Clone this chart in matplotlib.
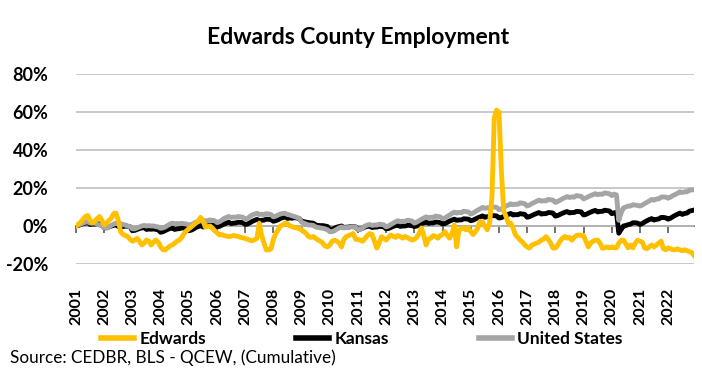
import numpy as np
import matplotlib.pyplot as plt
from matplotlib import font_manager
from matplotlib.lines import Line2D

years = [str(y) for y in range(2001, 2023)]

# Cumulative % change in employment since Jan 2001, one row of 12 months per year
edwards = [
    [0, 1, 2, 3.5, 5, 5.5, 3, 1.5, 2.5, 4, 5, 3],                      # 2001
    [0.5, 1.5, 3, 4, 6.5, 6.8, 3, -3, -4.5, -5, -5.6, -7],             # 2002
    [-8, -7.5, -6.5, -8, -10, -9, -7.4, -8, -10, -8.5, -7.4, -8.5],    # 2003
    [-11, -12.5, -12.6, -11.5, -10.5, -10, -9, -8, -7.4, -6, -4, -2.5],  # 2004
    [-1.5, -0.5, 0.5, 1.5, 2.5, 4.5, 3, -0.5, -0.3, 0, -1, -2.5],      # 2005
    [-3.5, -4.7, -4.5, -5, -5.3, -5.6, -5.4, -5, -5.3, -5.5, -6, -6.2],  # 2006
    [-6.5, -7, -7.5, -7.8, -7.2, -6.5, 1.5, -5, -9, -12.6, -12.6, -12],  # 2007
    [-7, -4, -2, 0, 0.5, 1.5, 1.2, 0, -0.3, -0.8, -1, -1.5],           # 2008
    [-2, -3, -4, -5.6, -6, -5.5, -6.5, -7.4, -8, -9, -10.5, -11],      # 2009
    [-10, -8, -7.5, -8, -9, -11, -7, -5.6, -5, -4.5, -4, -7],          # 2010
    [-7, -7.5, -8, -6.5, -5, -4, -4.5, -8, -11.6, -9, -5.6, -6.5],     # 2011
    [-7.4, -6, -4.7, -5.5, -6, -5, -5.5, -6.4, -5.5, -6, -6.8, -7.4],  # 2012
    [-7, -6, -4, -1, -5, -10, -7, -6.4, -5, -5.5, -6.4, -5],           # 2013
    [-4.5, -3, -5, -6.4, -4, 0.5, -11, -2, -1.5, -1, -2, -1],          # 2014
    [-3, -4.5, -3, -1, 2.5, 2, 0, -2, 1.5, 15, 57, 61],                # 2015
    [60, 30, 8, 5, 1.5, 1.5, -1, -4.7, -6, -7.4, -8.5, -10],           # 2016
    [-11, -11.6, -10, -9.5, -9, -8.5, -7.4, -7, -5.6, -7, -9, -11.6],  # 2017
    [-11.6, -10, -8, -6.5, -5.5, -6.4, -6, -7.5, -6, -5, -4.7, -5],    # 2018
    [-5, -8, -11, -9, -8, -7.5, -7.4, -9, -11.7, -11.5, -11, -11.5],   # 2019
    [-11, -11.5, -11.5, -9, -7.5, -7.4, -9.5, -11.5, -10, -11.5, -9, -7.5],  # 2020
    [-8, -8.5, -11.5, -12, -11, -10, -11, -10, -9, -8, -12, -12.5],    # 2021
    [-11.5, -12, -12.5, -12.5, -12, -12.5, -13, -12.5, -13, -13.5, -14, -15.5],  # 2022
]

kansas = [
    [0, 0.3, 0.8, 1.2, 1.5, 1.8, 0.8, 1, 1, 1.2, 1, 0.8],
    [-1, -0.8, -0.5, 0, 0.3, 0.6, -0.3, -0.2, -0.3, 0, -0.2, -0.4],
    [-2.5, -2.3, -1.8, -1.3, -1, -0.8, -1.8, -1.6, -1.7, -1.5, -1.8, -2],
    [-3.3, -3, -2.4, -1.8, -1.3, -1, -1.8, -1.5, -1.4, -1, -1.1, -1.3],
    [-2.5, -2.2, -1.6, -0.8, -0.3, 0.2, -0.5, -0.2, 0, 0.5, 0.4, 0.3],
    [-0.5, -0.2, 0.4, 1, 1.5, 2, 1.3, 1.5, 1.6, 2, 1.9, 1.8],
    [0.8, 1, 1.7, 2.4, 3, 3.5, 2.8, 3, 3.1, 3.6, 3.5, 3.4],
    [2.5, 2.8, 3.3, 4, 4.4, 4.8, 4, 4.2, 4.1, 4.4, 4.2, 3.9],
    [2.5, 2.3, 2, 1.8, 1.6, 1.5, 0.5, 0.3, 0.2, 0.2, 0, -0.3],
    [-1.8, -1.7, -1.2, -0.6, -0.3, 0, -0.8, -0.6, -0.6, -0.2, -0.3, -0.5],
    [-1.8, -1.6, -1.1, -0.5, -0.2, 0, -0.8, -0.6, -0.6, -0.2, -0.3, -0.4],
    [-1.5, -1.3, -0.8, -0.2, 0.2, 0.5, -0.2, 0, 0, 0.4, 0.3, 0.2],
    [-0.3, 0, 0.6, 1.2, 1.6, 2, 1.4, 1.6, 1.6, 2.1, 2, 1.8],
    [1, 1.3, 1.9, 2.6, 3.1, 3.6, 3, 3.2, 3.2, 3.8, 3.7, 3.6],
    [2.8, 3.1, 3.7, 4.3, 4.8, 5.3, 4.6, 4.9, 4.9, 5.5, 5.4, 5.3],
    [4.2, 4.4, 5, 5.6, 6.1, 6.6, 5.8, 6, 5.9, 6.5, 6.3, 6.1],
    [4.6, 4.9, 5.5, 6.1, 6.6, 7.1, 6.3, 6.5, 6.5, 7.1, 7, 6.8],
    [5.2, 5.5, 6.1, 6.7, 7.2, 7.6, 6.9, 7.1, 7.1, 7.7, 7.6, 7.4],
    [5.8, 6.1, 6.7, 7.3, 7.8, 8.2, 7.4, 7.7, 7.7, 8.3, 8.1, 7.9],
    [6.5, 6.9, 7.2, -3.8, -1.8, 0, 0.3, 0.7, 1, 1.7, 1.7, 1.5],
    [0.8, 1.3, 2.1, 2.8, 3.4, 3.9, 3.1, 3.5, 3.7, 4.5, 4.5, 4.3],
    [3.6, 4.1, 4.9, 5.6, 6.2, 6.8, 6.1, 6.6, 6.8, 7.8, 8.1, 8.4],
]

united_states = [
    [0, 0.5, 1, 1.5, 2, 2.3, 1.5, 1.8, 1.5, 1, 0.5, 0],
    [-1, -1.2, -0.5, 0.3, 1, 1.5, 1, 1.2, 0.8, 0.5, 0, -0.3],
    [-1.5, -1.5, -1, -0.5, 0, 0.3, 0, 0.2, 0, 0, -0.3, -0.5],
    [-1.2, -1, -0.5, 0.3, 1, 1.5, 1.2, 1.3, 1.2, 1.4, 1.2, 1],
    [0.5, 0.8, 1.3, 2, 2.5, 3, 2.6, 2.8, 2.8, 3.2, 3, 2.8],
    [1.8, 2.2, 3, 4, 4.5, 5, 4.5, 4.7, 4.6, 5, 4.8, 4.6],
    [3.5, 4, 5, 5.8, 6.3, 6.7, 6, 6.2, 6, 6.5, 6.3, 6],
    [4.8, 5.2, 5.8, 6.3, 6.6, 6.7, 6, 5.8, 5.3, 5, 4.5, 4],
    [2, 1.5, 1, 0.5, 0.5, 0.3, -0.5, -0.8, -1, -1.2, -1.5, -2],
    [-3, -3, -2.5, -1.7, -1, -0.5, -1, -0.8, -0.9, -0.4, -0.4, -0.6],
    [-2, -1.7, -1, 0, 0.5, 0.8, 0.3, 0.5, 0.5, 0.9, 0.8, 0.6],
    [-0.5, 0, 0.8, 1.5, 2.2, 2.8, 2.2, 2.5, 2.4, 3, 2.9, 2.6],
    [1.5, 2, 2.8, 3.5, 4.2, 4.8, 4.3, 4.6, 4.5, 5.2, 5, 4.8],
    [3.8, 4.2, 5, 5.8, 6.6, 7.3, 6.8, 7.2, 7, 7.8, 7.6, 7.4],
    [6.3, 6.8, 7.6, 8.4, 9, 9.8, 9.3, 9.6, 9.5, 10.2, 10, 9.8],
    [8.6, 9, 9.8, 10.5, 11, 11.7, 11.2, 11.5, 11.4, 12.2, 12, 11.7],
    [10.5, 11, 11.8, 12.4, 13, 13.6, 13.1, 13.3, 13.2, 14, 13.8, 13.6],
    [12.4, 12.9, 13.6, 14.3, 14.9, 15.5, 15, 15.3, 15.2, 16, 15.8, 15.6],
    [14.3, 14.8, 15.4, 16, 16.5, 17, 16.5, 16.8, 16.7, 17.4, 17.2, 17],
    [16, 16.8, 16.3, 3, 7, 9.5, 10, 10.5, 10.5, 11.2, 11, 10.8],
    [10.5, 11, 11.8, 12.5, 13.2, 14, 13.6, 14.2, 14.3, 15.2, 15.3, 15.2],
    [14.6, 15.2, 16, 16.6, 17.2, 18, 17.6, 18, 18, 18.8, 19, 19],
]

series_names = ['Edwards', 'Kansas', 'United States']
series_colors = ['#FFC000', '#000000', '#A5A5A5']

installed = {f.name for f in font_manager.fontManager.ttflist}
main_font = 'Lato' if 'Lato' in installed else 'DejaVu Sans'
plt.rcParams['font.family'] = [main_font, 'DejaVu Sans']

ed = np.array(edwards, dtype=float).ravel()
ks = np.array(kansas, dtype=float).ravel()
us = np.array(united_states, dtype=float).ravel()
months = np.arange(len(ed))

fig = plt.figure(figsize=(7.02, 3.74), dpi=100)
ax = fig.add_axes([76 / 702, 1 - 264 / 374, 618 / 702, 190 / 374])

lw = 3.5
ax.plot(months, ks, color=series_colors[1], lw=lw, zorder=3, solid_joinstyle='round')
ax.plot(months, us, color=series_colors[2], lw=lw, zorder=4, solid_joinstyle='round')
ax.plot(months, ed, color=series_colors[0], lw=lw, zorder=5, solid_joinstyle='round')

ax.set_xlim(0, len(ed) - 1)
ax.set_ylim(-20, 80)
ax.set_yticks(np.arange(-20, 81, 20))
ax.set_yticklabels([f'{v}%' for v in range(-20, 81, 20)], fontsize=13, fontweight='bold')
ax.yaxis.grid(True, color='#BFBFBF', lw=1.2)
ax.set_axisbelow(True)
ax.tick_params(axis='y', length=0, pad=20)

year_ticks = np.arange(0, len(ed), 12)
ax.set_xticks(year_ticks)
ax.set_xticklabels(years, rotation=90, fontsize=11.5, fontweight='bold')
ax.tick_params(axis='x', length=0, pad=17)

for s in ax.spines.values():
    s.set_visible(False)

# zero line carries the year tick marks
zero_axis = ax.secondary_xaxis(0.2)
zero_axis.set_xticks(year_ticks)
zero_axis.set_xticklabels([])
zero_axis.tick_params(direction='out', length=5, width=1.2, color='#595959')
zero_axis.spines['bottom'].set_color('#595959')
zero_axis.spines['bottom'].set_linewidth(1.2)
zero_axis.spines['bottom'].set_zorder(2)

fig.text(0.51, 1 - 37 / 374, 'Edwards County Employment', ha='center', va='center',
         fontsize=16.5, fontweight='bold')

handles = [Line2D([], [], color=c, lw=4) for c in series_colors]
leg = fig.legend(handles, series_names, loc='center', ncol=3,
                 bbox_to_anchor=(362 / 702, 1 - 339 / 374), frameon=False,
                 prop={'weight': 'bold', 'size': 12.5}, handlelength=1.9,
                 handletextpad=0.3, columnspacing=5.2)

fig.text(10 / 702, 1 - 358 / 374, 'Source: CEDBR, BLS - QCEW, (Cumulative)',
         ha='left', va='center', fontsize=12.3)

fig.savefig('out.png', dpi=100)
